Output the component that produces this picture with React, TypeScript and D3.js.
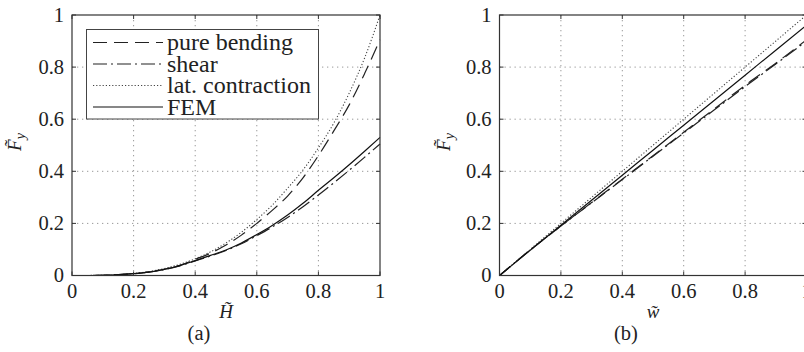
import * as d3 from 'd3';

// shared axis ticks
const tickValues = [0, 0.2, 0.4, 0.6, 0.8, 1];
const tickLabels = ['0', '0.2', '0.4', '0.6', '0.8', '1'];

const legendLabels = ['pure bending', 'shear', 'lat. contraction', 'FEM'];

// panel (a): F_y over H
const hA = [0, 0.05, 0.1, 0.15, 0.2, 0.25, 0.3, 0.35, 0.4, 0.45, 0.5, 0.55, 0.6, 0.65, 0.7, 0.75, 0.8, 0.85, 0.9, 0.95, 1];
const bendingA = [0, 0, 0.001, 0.003, 0.007, 0.014, 0.025, 0.039, 0.062, 0.086, 0.117, 0.155, 0.2, 0.25, 0.305, 0.375, 0.46, 0.555, 0.655, 0.775, 0.905];
const shearA = [0, 0, 0.001, 0.003, 0.007, 0.013, 0.023, 0.037, 0.056, 0.075, 0.096, 0.122, 0.153, 0.186, 0.223, 0.264, 0.309, 0.356, 0.404, 0.454, 0.505];
const latContrA = [0, 0, 0.001, 0.003, 0.008, 0.015, 0.027, 0.043, 0.064, 0.091, 0.125, 0.166, 0.215, 0.27, 0.335, 0.405, 0.49, 0.585, 0.7, 0.835, 1];
const femA = [0, 0, 0.001, 0.003, 0.007, 0.013, 0.023, 0.038, 0.057, 0.077, 0.098, 0.125, 0.157, 0.192, 0.232, 0.277, 0.327, 0.375, 0.425, 0.477, 0.53];

// panel (b): F_y over w
const wB = [0, 0.1, 0.2, 0.3, 0.4, 0.5, 0.6, 0.7, 0.8, 0.9, 1];
const bendingB = [0, 0.098, 0.19, 0.28, 0.37, 0.46, 0.55, 0.64, 0.73, 0.815, 0.905];
const shearB = [0, 0.098, 0.19, 0.279, 0.368, 0.458, 0.547, 0.636, 0.725, 0.812, 0.9];
const latContrB = [0, 0.1, 0.2, 0.3, 0.4, 0.5, 0.6, 0.7, 0.8, 0.9, 1];
const femB = [0, 0.097, 0.193, 0.289, 0.385, 0.481, 0.577, 0.673, 0.769, 0.865, 0.961];

const FONT = '"Liberation Serif", "Times New Roman", Tinos';
const INK = '#222';

// line style per series, same order as legendLabels
const dashes = ['14,7', '14,4,2,4', '1.2,2', undefined];
const strokes = ['#222', '#222', '#444', '#111'];
const drawOrder = [2, 0, 1, 3]; // dotted first so the others sit on top

const Panel = (props: any) => {
    const { left, right, top, bottom, xs, series, xLabel, tag, yLabelX, legend } = props;
    const xScale = d3.scaleLinear().domain([0, 1]).range([left, right]);
    const yScale = d3.scaleLinear().domain([0, 1]).range([bottom, top]);
    const inner = tickValues.slice(1, -1);
    const cx = (left + right) / 2;
    const txt = { fontFamily: FONT, fill: INK } as any;

    const lineFor = (ys: number[]) => d3.line<number>()
        .x((d, i) => xScale(xs[i]))
        .y(d => yScale(d))
        .curve(d3.curveMonotoneX)(ys) as string;

    return (
        <g>
            {/* dotted grid */}
            {inner.map(t => (
                <line key={'v' + t} x1={xScale(t)} x2={xScale(t)} y1={top} y2={bottom}
                    stroke="#999" strokeWidth={1} strokeDasharray="1.3,3.7" />
            ))}
            {inner.map(t => (
                <line key={'h' + t} x1={left} x2={right} y1={yScale(t)} y2={yScale(t)}
                    stroke="#999" strokeWidth={1} strokeDasharray="1.3,3.7" />
            ))}

            {drawOrder.map(k => (
                <path key={'s' + k} d={lineFor(series[k])} fill="none" stroke={strokes[k]}
                    strokeWidth={k === 2 ? 1.1 : 1.2} strokeDasharray={dashes[k]} />
            ))}

            {/* frame, ticks inward on all sides */}
            <rect x={left} y={top} width={right - left} height={bottom - top}
                fill="none" stroke="#333" strokeWidth={1.2} />
            {tickValues.map(t => (
                <g key={'t' + t} stroke="#333">
                    <line x1={xScale(t)} x2={xScale(t)} y1={bottom} y2={bottom - 4} />
                    <line x1={xScale(t)} x2={xScale(t)} y1={top} y2={top + 4} />
                    <line x1={left} x2={left + 4} y1={yScale(t)} y2={yScale(t)} />
                    <line x1={right} x2={right - 4} y1={yScale(t)} y2={yScale(t)} />
                </g>
            ))}

            {tickValues.map((t, i) => (
                <text key={'xt' + t} x={xScale(t)} y={bottom + 22} textAnchor="middle"
                    fontSize={20.5} style={txt}>{tickLabels[i]}</text>
            ))}
            {tickValues.map((t, i) => (
                <text key={'yt' + t} x={left - 8} y={yScale(t)} dy="0.34em" textAnchor="end"
                    fontSize={20.5} style={txt}>{tickLabels[i]}</text>
            ))}

            <text x={cx} y={318} textAnchor="middle" fontStyle="italic" fontSize={19} style={txt}>
                {xLabel + '\u0303'}
            </text>
            <text x={cx - 27} y={340} textAnchor="middle" fontSize={20.5} style={txt}>{tag}</text>

            <text transform={`translate(${yLabelX}, 142) rotate(-90)`} textAnchor="middle"
                fontStyle="italic" fontSize={19} style={txt}>
                <tspan>{'F\u0303'}</tspan>
                <tspan fontSize={14} dy={4}>y</tspan>
            </text>

            {legend && (
                <g>
                    <rect x={86.5} y={29.5} width={232} height={89.5} fill="white" stroke="#444" strokeWidth={1} />
                    {legendLabels.map((lab, i) => {
                        const yy = 42.5 + i * 21.5;
                        return (
                            <g key={lab}>
                                <line x1={93} x2={163} y1={yy} y2={yy} stroke={strokes[i]}
                                    strokeWidth={1.2} strokeDasharray={dashes[i]} />
                                <text x={167} y={yy} dy="0.33em" fontSize={24} style={txt}>{lab}</text>
                            </g>
                        );
                    })}
                </g>
            )}
        </g>
    );
};

export default function App() {
    return (
        <svg width={804} height={352}
            style={{ position: 'absolute', left: 0, top: 0, background: 'white', fontFamily: FONT }}>
            <Panel left={72} right={380} top={15} bottom={275.5}
                xs={hA} series={[bendingA, shearA, latContrA, femA]}
                xLabel="H" tag="(a)" yLabelX={21} legend={true} />
            <Panel left={499.5} right={806.5} top={15} bottom={275.5}
                xs={wB} series={[bendingB, shearB, latContrB, femB]}
                xLabel="w" tag="(b)" yLabelX={450} legend={false} />
        </svg>
    );
}
